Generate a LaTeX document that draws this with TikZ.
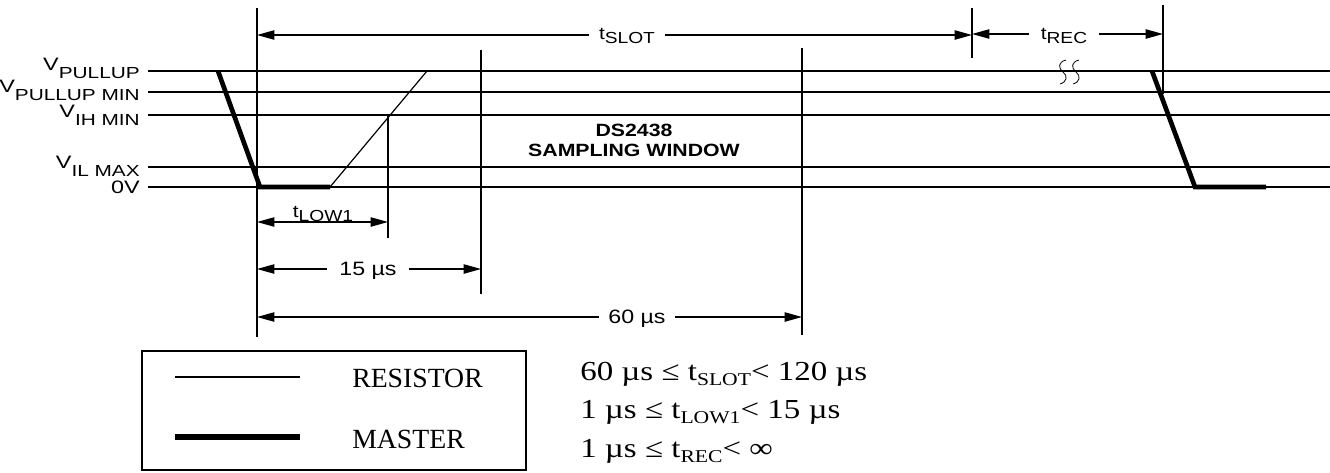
\documentclass[tikz,border=0pt]{standalone}
\usepackage{fontspec}
\setmainfont{Liberation Serif}
\newfontfamily\lvlfont[FakeStretch=1.3]{Liberation Sans}
\newfontfamily\lblfont[FakeStretch=1.2]{Liberation Sans}
\newfontfamily\condfont[FakeStretch=1.2]{Liberation Serif}
\usetikzlibrary{arrows.meta, positioning}

\newcommand{\vlo}[1]{\raisebox{-6pt}{\fontsize{12}{12}\selectfont #1}}
\newcommand{\tlo}[1]{\raisebox{-3pt}{\fontsize{12}{12}\selectfont #1}}
\newcommand{\clo}[1]{\raisebox{-4pt}{\fontsize{13.5}{13.5}\selectfont #1}}

\tikzset{
    level/.style={line width=0.9pt},
    resistor/.style={line width=0.9pt},
    master/.style={line width=3.5pt},
    marker/.style={line width=0.9pt},
    dim/.style={line width=0.9pt},
    lvl/.style={anchor=base east, inner sep=0pt, font=\lvlfont\fontsize{13.5}{13.5}\selectfont},
    dimtxt/.style={anchor=base, inner ysep=0pt, inner xsep=7pt, font=\lblfont\fontsize{13}{13}\selectfont},
    legtxt/.style={anchor=base west, inner sep=0pt, font=\fontsize{20.8}{20.8}\selectfont},
    cond/.style={anchor=base west, inner sep=0pt, font=\condfont\fontsize{20.6}{20.6}\selectfont},
}

\begin{document}
\begin{tikzpicture}[x=0.75pt, y=-0.75pt, >={Triangle[length=13pt,width=7pt]}]
    \useasboundingbox (0,0) rectangle (1330,472);

    % levels
    \foreach \y/\nm in {71/pu, 92/pum, 115/ih, 167/il, 187/zero} {
        \coordinate (l\nm) at (148,\y);
        \coordinate (r\nm) at (1330,\y);
        \draw[level] (l\nm) -- (r\nm);
    }
    \node[lvl] (vpu) at (140,70) {V\vlo{PULLUP}};
    \node[lvl] (vpum) at (140,92) {V\vlo{PULLUP MIN}};
    \node[lvl] (vih) at (140,117) {V\vlo{IH MIN}};
    \node[lvl] (vil) at (140,168) {V\vlo{IL MAX}};
    \node[lvl] (vzero) at (140,193) {0V};

    % markers
    \coordinate (m0t) at (257,8);    \coordinate (m0b) at (257,337);
    \coordinate (m1t) at (388,115);  \coordinate (m1b) at (388,238);
    \coordinate (m2t) at (481,50);   \coordinate (m2b) at (481,294);
    \coordinate (m3t) at (802,48);   \coordinate (m3b) at (802,335);
    \coordinate (m4t) at (972,8);    \coordinate (m4b) at (972,58);
    \coordinate (m5t) at (1163,5);   \coordinate (m5b) at (1163,94);
    \foreach \i in {0,...,5} {
        \draw[marker] (m\i t) -- (m\i b);
    }

    % signals
    \draw[master] (218,71) -- (260,187) -- (330,187);
    \draw[resistor] (330,187) -- (427,71);
    \draw[master] (1152,71) -- (1195,187) -- (1266,187);
    \foreach \dx in {0,13} {
        \draw[line width=0.6pt] (1066+\dx,60) .. controls (1058+\dx,62) and (1058+\dx,68) .. (1063+\dx,72)
            .. controls (1068+\dx,76) and (1067+\dx,82) .. (1060+\dx,84);
    }

    % t_SLOT, t_REC
    \coordinate (sl) at (257,35);  \coordinate (sr) at (972,35);
    \node[dimtxt] (tslot) at (627,39) {t\tlo{SLOT}};
    \draw[dim,->] (tslot.west |- sl) -- (sl);
    \draw[dim,->] (tslot.east |- sr) -- (sr);
    \coordinate (rl) at (972,34);  \coordinate (rr) at (1163,34);
    \node[dimtxt, inner xsep=9pt] (trec) at (1064,39) {t\tlo{REC}};
    \draw[dim,->] (trec.west |- rl) -- (rl);
    \draw[dim,->] (trec.east |- rr) -- (rr);

    % t_LOW1, 15 us, 60 us
    \coordinate (ll) at (257,222);  \coordinate (lr) at (388,222);
    \draw[dim,<->] (ll) -- (lr);
    \node[dimtxt, inner xsep=0pt] (tlow) at (323,217) {t\tlo{LOW1}};
    \coordinate (fl) at (257,269);  \coordinate (fr) at (481,269);
    \node[dimtxt, font=\lblfont\fontsize{14.5}{14.5}\selectfont, inner xsep=9pt] (d15) at (368,275) {15 µs};
    \draw[dim,->] (d15.west |- fl) -- (fl);
    \draw[dim,->] (d15.east |- fr) -- (fr);
    \coordinate (xl) at (257,317);  \coordinate (xr) at (802,317);
    \node[dimtxt, font=\lblfont\fontsize{14.5}{14.5}\selectfont, inner xsep=7pt] (d60) at (637,323) {60 µs};
    \draw[dim,->] (d60.west |- xl) -- (xl);
    \draw[dim,->] (d60.east |- xr) -- (xr);

    % window
    \node[font=\lblfont\bfseries\fontsize{13.3}{15}\selectfont, align=center, inner sep=0pt] (win) at (634,140) {DS2438\\SAMPLING WINDOW};

    % legend
    \draw[line width=0.8pt] (142,351) rectangle (526,470);
    \draw[resistor] (175,377) -- (300,377);
    \draw[line width=4.2pt] (175,437) -- (300,437);
    \node[legtxt] (lres) at (352,387) {RESISTOR};
    \node[legtxt] (lmas) at (352,448) {MASTER};

    % conditions
    \node[cond] (c1) at (580,380) {60 µs ≤ t\clo{SLOT}< 120 µs};
    \node[cond] (c2) at (580,418) {1 µs ≤ t\clo{LOW1}< 15 µs};
    \node[cond] (c3) at (580,457) {1 µs ≤ t\clo{REC}< ∞};
\end{tikzpicture}
\end{document}
